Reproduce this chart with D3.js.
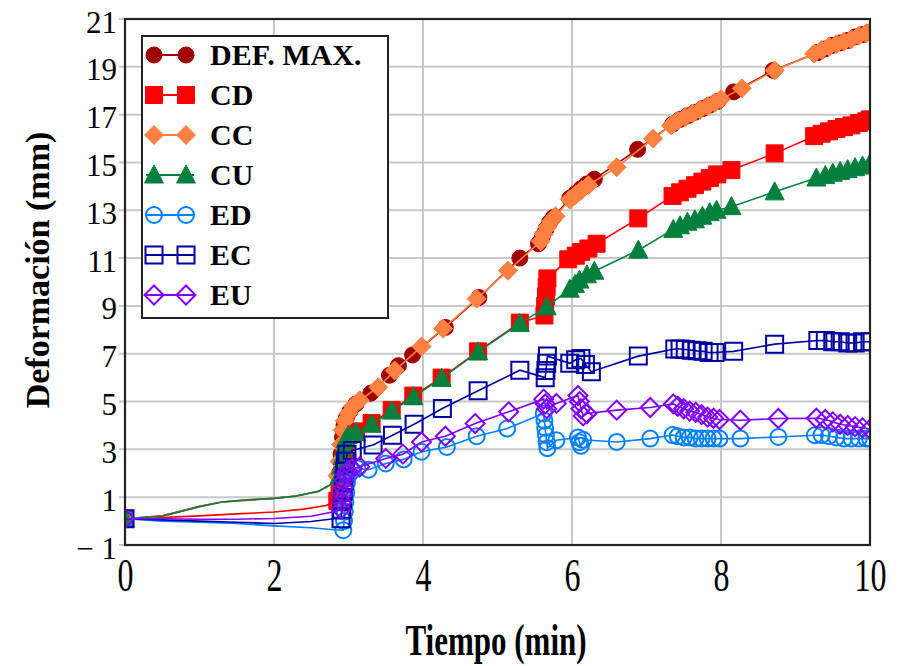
<!DOCTYPE html>
<html>
<head>
<meta charset="utf-8">
<script src="https://cdn.jsdelivr.net/npm/d3@7"></script>
<style>
  html, body { margin: 0; padding: 0; background: #fff; }
  svg { display: block; }
</style>
</head>
<body>
<svg id="chart" width="899" height="666"></svg>
<script>
// Axis ticks
const xTicks = [0, 2, 4, 6, 8, 10];
const yTicks = [-1, 1, 3, 5, 7, 9, 11, 13, 15, 17, 19, 21];

// Deformation readings, [tiempo (min), deformación (mm)]
const defMax = [
  [0, 0.1], [0.5, 0.22], [1.0, 0.62], [1.3, 0.8], [1.6, 0.86], [2.0, 0.95], [2.3, 1.05], [2.6, 1.25], [2.8, 1.6],
  [2.88, 2.0], [2.9, 2.8], [2.92, 3.5], [2.94, 4.0], [2.97, 4.3], [3.02, 4.6], [3.1, 4.9],
  [3.3, 5.35], [3.55, 6.1], [3.67, 6.5], [3.86, 6.95], [4.3, 8.1], [4.75, 9.35], [5.3, 11.0],
  [5.55, 11.6], [5.6, 11.9], [5.65, 12.2], [5.7, 12.5], [5.75, 12.7],
  [5.97, 13.5], [6.05, 13.7], [6.12, 13.9], [6.2, 14.1], [6.3, 14.3], [6.88, 15.55],
  [7.35, 16.6], [7.45, 16.8], [7.55, 16.95], [7.65, 17.1], [7.75, 17.25], [7.85, 17.4], [7.95, 17.55],
  [8.17, 17.95], [8.7, 18.85], [9.3, 19.6], [9.4, 19.75], [9.5, 19.9], [9.6, 20.0], [9.7, 20.1],
  [9.8, 20.25], [9.9, 20.35], [10, 20.45]
];
const cd = [
  [0, 0.1], [0.5, 0.15], [1.0, 0.22], [1.5, 0.3], [2.0, 0.38], [2.4, 0.5], [2.7, 0.65], [2.85, 0.85],
  [2.88, 1.2], [2.9, 1.8], [2.92, 2.4], [2.94, 2.9], [2.96, 3.3], [3.0, 3.6], [3.1, 3.75],
  [3.31, 4.1], [3.58, 4.65], [3.87, 5.25], [4.25, 6.0], [4.74, 7.1], [5.3, 8.3],
  [5.63, 8.6], [5.64, 9.0], [5.65, 9.4], [5.66, 9.8], [5.67, 10.15],
  [5.95, 10.95], [6.05, 11.1], [6.12, 11.25], [6.22, 11.4], [6.33, 11.6], [6.89, 12.66],
  [7.35, 13.6], [7.45, 13.75], [7.55, 13.9], [7.65, 14.05], [7.75, 14.2], [7.85, 14.35], [7.95, 14.5],
  [8.14, 14.68], [8.72, 15.38], [9.25, 16.1], [9.35, 16.2], [9.45, 16.3], [9.55, 16.4], [9.65, 16.48],
  [9.75, 16.55], [9.85, 16.65], [9.95, 16.72], [10, 16.8]
];
const cc = [
  [0, 0.1], [0.5, 0.2], [1.0, 0.6], [1.3, 0.8], [1.6, 0.88], [2.0, 0.95], [2.3, 1.05], [2.6, 1.25], [2.8, 1.6],
  [2.85, 1.9], [2.88, 2.5], [2.9, 3.2], [2.92, 3.8], [2.95, 4.2], [3.0, 4.5], [3.06, 4.8], [3.15, 5.05],
  [3.4, 5.6], [3.62, 6.3], [3.98, 7.3], [4.27, 8.05], [4.72, 9.3], [5.14, 10.47],
  [5.58, 11.7], [5.62, 12.0], [5.67, 12.3], [5.72, 12.55], [5.78, 12.75],
  [5.97, 13.45], [6.05, 13.65], [6.13, 13.85], [6.22, 14.05], [6.6, 14.8], [7.09, 16.0],
  [7.33, 16.55], [7.42, 16.75], [7.52, 16.9], [7.62, 17.05], [7.72, 17.2], [7.82, 17.35], [7.92, 17.5], [8.0, 17.65],
  [8.28, 18.1], [8.72, 18.85], [9.25, 19.55], [9.35, 19.7], [9.45, 19.85], [9.55, 19.95], [9.65, 20.05],
  [9.75, 20.15], [9.85, 20.3], [9.95, 20.4], [10, 20.45]
];
const cu = [
  [0, 0.1], [0.5, 0.2], [1.0, 0.6], [1.3, 0.8], [1.6, 0.88], [2.0, 0.95], [2.3, 1.05], [2.6, 1.25], [2.8, 1.6],
  [2.88, 1.9], [2.9, 2.3], [2.92, 2.7], [2.94, 3.1], [2.96, 3.4], [3.0, 3.6], [3.1, 3.7],
  [3.31, 4.05], [3.58, 4.6], [3.87, 5.2], [4.25, 5.97], [4.74, 7.08], [5.3, 8.27], [5.66, 8.96],
  [5.97, 9.7], [6.04, 9.9], [6.1, 10.08], [6.2, 10.3], [6.3, 10.45], [6.89, 11.33],
  [7.36, 12.2], [7.45, 12.35], [7.55, 12.5], [7.65, 12.6], [7.75, 12.75], [7.85, 12.9], [7.94, 13.0],
  [8.14, 13.15], [8.72, 13.77], [9.28, 14.35], [9.4, 14.45], [9.5, 14.55], [9.6, 14.62], [9.7, 14.7],
  [9.8, 14.78], [9.9, 14.85], [10, 14.96]
];
const ed = [
  [0, 0.1], [0.5, 0.0], [1.0, -0.05], [1.5, -0.1], [2.0, -0.2], [2.5, -0.28], [2.8, -0.36],
  [2.93, -0.38], [2.94, 0.0], [2.95, 0.4], [2.96, 0.8], [2.97, 1.2], [2.98, 1.6], [3.0, 1.9], [3.05, 2.1], [3.12, 2.2],
  [3.27, 2.15], [3.5, 2.41], [3.74, 2.58], [3.98, 2.9], [4.32, 3.1], [4.72, 3.55], [5.13, 3.87],
  [5.62, 4.5], [5.63, 4.2], [5.64, 3.9], [5.65, 3.6], [5.66, 3.3], [5.67, 3.05], [5.79, 3.38],
  [6.08, 3.5], [6.1, 3.3], [6.12, 3.15], [6.15, 3.4], [6.6, 3.31], [7.05, 3.45],
  [7.35, 3.6], [7.42, 3.55], [7.5, 3.5], [7.58, 3.5], [7.66, 3.45], [7.74, 3.45], [7.82, 3.45], [7.9, 3.45], [7.98, 3.45],
  [8.26, 3.45], [8.77, 3.52], [9.26, 3.59], [9.35, 3.6], [9.45, 3.55], [9.55, 3.5], [9.65, 3.45],
  [9.75, 3.45], [9.85, 3.45], [9.95, 3.45], [10, 3.45]
];
const ec = [
  [0, 0.1], [0.5, 0.05], [1.0, 0.0], [1.5, -0.05], [2.0, -0.1], [2.5, -0.02], [2.8, 0.1],
  [2.9, 0.1], [2.91, 0.5], [2.92, 0.9], [2.93, 1.3], [2.94, 1.7], [2.95, 2.1], [2.96, 2.5], [2.98, 2.8], [3.05, 2.95],
  [3.33, 3.18], [3.59, 3.59], [3.88, 4.05], [4.26, 4.71], [4.74, 5.45], [5.3, 6.31],
  [5.64, 6.0], [5.65, 6.3], [5.66, 6.6], [5.67, 6.9],
  [5.97, 6.6], [6.05, 6.75], [6.12, 6.8], [6.18, 6.55], [6.26, 6.25], [6.89, 6.9],
  [7.38, 7.2], [7.45, 7.2], [7.52, 7.18], [7.6, 7.15], [7.68, 7.12], [7.76, 7.1], [7.84, 7.05], [7.92, 7.05],
  [8.17, 7.1], [8.72, 7.4], [9.3, 7.55], [9.4, 7.55], [9.5, 7.5], [9.6, 7.5], [9.7, 7.45],
  [9.8, 7.45], [9.9, 7.5], [10, 7.5]
];
const eu = [
  [0, 0.1], [0.5, 0.1], [1.0, 0.08], [1.5, 0.08], [2.0, 0.11], [2.5, 0.2], [2.8, 0.39],
  [2.9, 0.5], [2.91, 0.8], [2.92, 1.1], [2.93, 1.4], [2.94, 1.7], [2.96, 1.95], [2.99, 2.1], [3.05, 2.2],
  [3.15, 2.27], [3.5, 2.62], [3.73, 2.8], [3.98, 3.31], [4.3, 3.55], [4.7, 4.08], [5.15, 4.57],
  [5.62, 5.1], [5.64, 4.9], [5.66, 4.7], [5.79, 4.92],
  [6.08, 5.25], [6.1, 5.0], [6.12, 4.7], [6.15, 4.4], [6.2, 4.5], [6.6, 4.64], [7.05, 4.75],
  [7.36, 4.9], [7.42, 4.8], [7.5, 4.7], [7.58, 4.6], [7.66, 4.55], [7.74, 4.45], [7.82, 4.35], [7.9, 4.3], [7.98, 4.25],
  [8.26, 4.22], [8.77, 4.29], [9.28, 4.3], [9.4, 4.25], [9.5, 4.15], [9.6, 4.05], [9.7, 4.0],
  [9.8, 3.95], [9.9, 3.9], [10, 3.85]
];

const seriesNames = ["DEF. MAX.", "CD", "CC", "CU", "ED", "EC", "EU"];
const seriesData = [defMax, cd, cc, cu, ed, ec, eu];

// Readings between the start and the loading step are logged without markers
const MARKER_FROM = 2.85;

// Appearance of each series
const styles = [
  { color: "#a00000", shape: "circle",   filled: true },
  { color: "#ff0000", shape: "square",   filled: true },
  { color: "#ff8040", shape: "diamond",  filled: true },
  { color: "#00803c", shape: "triangle", filled: true },
  { color: "#0080ff", shape: "circle",   filled: false },
  { color: "#0000a0", shape: "square",   filled: false },
  { color: "#8000ff", shape: "diamond",  filled: false }
];

const shapePaths = {
  circle: "M8,0A8,8,0,1,1,-8,0A8,8,0,1,1,8,0Z",
  square: "M-8.5,-8.5H8.5V8.5H-8.5Z",
  diamond: "M0,-9.5L9.5,0L0,9.5L-9.5,0Z",
  triangle: "M0,-10L9.5,8L-9.5,8Z"
};

const svg = d3.select("#chart");
const margin = { left: 125, right: 29, top: 19, bottom: 121 };
const W = 899, H = 666;
const innerW = W - margin.left - margin.right;
const innerH = H - margin.top - margin.bottom;

const x = d3.scaleLinear().domain([0, 10]).range([margin.left, margin.left + innerW]);
const y = d3.scaleLinear().domain([-1, 21]).range([margin.top + innerH, margin.top]);

const serif = "'Liberation Serif', 'Times New Roman', serif";

// Grid
const grid = svg.append("g");
grid.selectAll("line.gx").data(xTicks).join("line")
  .attr("x1", d => x(d)).attr("x2", d => x(d))
  .attr("y1", margin.top).attr("y2", margin.top + innerH)
  .attr("stroke", "#c8c8c8").attr("stroke-width", 2);
grid.selectAll("line.gy").data(yTicks).join("line")
  .attr("x1", margin.left - 6).attr("x2", margin.left + innerW)
  .attr("y1", d => y(d)).attr("y2", d => y(d))
  .attr("stroke", "#c8c8c8").attr("stroke-width", 2);

// Y axis labels
const yAxis = d3.axisLeft(y).tickValues(yTicks).tickSize(0).tickPadding(8)
  .tickFormat(d => d < 0 ? "\u2212 " + Math.abs(d) : String(d));
const gy = svg.append("g").attr("transform", `translate(${margin.left},0)`).call(yAxis);
gy.select(".domain").remove();
gy.selectAll("text")
  .attr("font-family", serif).attr("font-size", 31).attr("fill", "#000")
  .attr("x", -8).attr("dy", 13);

// X axis labels (tall, narrow lettering)
const xAxis = d3.axisBottom(x).tickValues(xTicks).tickSize(0).tickFormat(d3.format("d"));
const gx = svg.append("g").attr("transform", `translate(0,${margin.top + innerH})`).call(xAxis);
gx.select(".domain").remove();
gx.selectAll(".tick text")
  .attr("font-family", serif).attr("font-size", 32).attr("fill", "#000")
  .attr("y", 0).attr("dy", 0)
  .attr("transform", "translate(0,46) scale(1,1.45)");

// Plot clip
svg.append("clipPath").attr("id", "plotClip").append("rect")
  .attr("x", margin.left).attr("y", margin.top).attr("width", innerW).attr("height", innerH);

const plot = svg.append("g").attr("clip-path", "url(#plotClip)");
const line = d3.line().x(d => x(d[0])).y(d => y(d[1]));

seriesData.forEach((data, i) => {
  const st = styles[i];
  const g = plot.append("g");
  g.append("path").datum(data)
    .attr("d", line).attr("fill", "none")
    .attr("stroke", st.color).attr("stroke-width", 1.6);
  g.selectAll("path.mk")
    .data(data.filter(d => d[0] === 0 || d[0] >= MARKER_FROM))
    .join("path")
    .attr("class", "mk")
    .attr("d", shapePaths[st.shape])
    .attr("transform", d => `translate(${x(d[0])},${y(d[1])})`)
    .attr("fill", st.filled ? st.color : "none")
    .attr("stroke", st.color)
    .attr("stroke-width", st.filled ? 1 : 2);
});

// Frame
svg.append("rect")
  .attr("x", margin.left).attr("y", margin.top).attr("width", innerW).attr("height", innerH)
  .attr("fill", "none").attr("stroke", "#222").attr("stroke-width", 2.2);

// Legend
const lg = svg.append("g");
lg.append("rect").attr("x", 142).attr("y", 36).attr("width", 246).attr("height", 282)
  .attr("fill", "#fff").attr("stroke", "#222").attr("stroke-width", 2);
seriesNames.forEach((name, i) => {
  const st = styles[i];
  const cy = 55 + i * 40;
  lg.append("line").attr("x1", 146).attr("x2", 194).attr("y1", cy).attr("y2", cy)
    .attr("stroke", st.color).attr("stroke-width", 2);
  [154, 186].forEach(cx => {
    lg.append("path").attr("d", shapePaths[st.shape])
      .attr("transform", `translate(${cx},${cy})`)
      .attr("fill", st.filled ? st.color : "none")
      .attr("stroke", st.color).attr("stroke-width", st.filled ? 1 : 2);
  });
  lg.append("text").attr("x", 210).attr("y", cy + 10)
    .attr("font-family", serif).attr("font-weight", "bold").attr("font-size", 30)
    .attr("fill", "#000").text(name);
});

// Axis titles
svg.append("text")
  .attr("transform", "translate(496,655) scale(1,1.45)")
  .attr("text-anchor", "middle")
  .attr("font-family", serif).attr("font-weight", "bold").attr("font-size", 31)
  .attr("fill", "#000").text("Tiempo (min)");

svg.append("text")
  .attr("transform", "translate(49,270) rotate(-90)")
  .attr("text-anchor", "middle")
  .attr("font-family", serif).attr("font-weight", "bold").attr("font-size", 34)
  .attr("fill", "#000").text("Deformación (mm)");
</script>
</body>
</html>
